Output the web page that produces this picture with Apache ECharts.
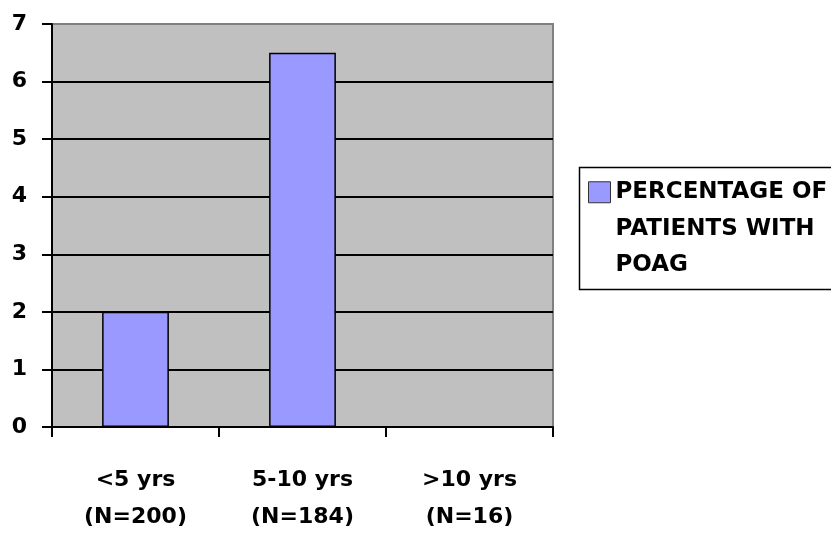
<!DOCTYPE html>
<html>
<head>
<meta charset="utf-8">
<script src="https://cdn.jsdelivr.net/npm/echarts@6/dist/echarts.min.js"></script>
<style>
html,body{margin:0;padding:0;background:#fff;}
#c{width:831px;height:533px;}
</style>
</head>
<body>
<div id="c"></div>
<script>
const categories = ['<5 yrs\n(N=200)', '5-10 yrs\n(N=184)', '>10 yrs\n(N=16)'];
const seriesName = 'PERCENTAGE OF PATIENTS WITH POAG';
const values = [2, 6.5, 0];
const yTicks = [0, 1, 2, 3, 4, 5, 6, 7];

const FONT = 'DejaVu Sans';
const chart = echarts.init(document.getElementById('c'), null, {renderer: 'canvas'});
chart.setOption({
  animation: false,
  backgroundColor: '#ffffff',
  grid: {
    left: 52, right: 278, top: 24, bottom: 106,
    containLabel: false, outerBoundsMode: 'none',
    show: true, backgroundColor: '#C0C0C0', borderColor: '#808080', borderWidth: 2
  },
  legend: {
    show: true,
    left: 588, top: 101,
    padding: 0,
    itemWidth: 22, itemHeight: 21,
    icon: 'rect',
    formatter: function (n) { return '\n\nPERCENTAGE OF\nPATIENTS WITH\nPOAG'; },
    textStyle: {
      fontFamily: FONT, fontWeight: 'bold', fontSize: 23, color: '#000',
      lineHeight: 36.5
    },
    itemStyle: {borderColor: '#333', borderWidth: 1}
  },
  graphic: [{
    type: 'rect', left: 577, top: 165, silent: true,
    shape: {width: 300, height: 122},
    style: {fill: 'none', stroke: '#000', lineWidth: 1.5}
  }],
  xAxis: {
    type: 'category',
    data: categories,
    axisLine: {lineStyle: {color: '#000', width: 2}},
    axisTick: {show: true, inside: false, length: 10, alignWithLabel: false, lineStyle: {color: '#000', width: 2}},
    axisLabel: {
      margin: 35, interval: 0,
      fontFamily: FONT, fontWeight: 'bold', fontSize: 22, color: '#000', lineHeight: 37
    },
    splitLine: {show: false}
  },
  yAxis: {
    type: 'value',
    min: yTicks[0], max: yTicks[yTicks.length - 1], interval: 1,
    axisLine: {show: true, lineStyle: {color: '#000', width: 2}},
    axisTick: {show: true, inside: false, length: 10, lineStyle: {color: '#000', width: 2}},
    axisLabel: {margin: 25, fontFamily: FONT, fontWeight: 'bold', fontSize: 22, color: '#000'},
    splitLine: {show: true, showMaxLine: false, lineStyle: {color: '#000', width: 2}}
  },
  series: [{
    name: seriesName,
    type: 'bar',
    data: values,
    barWidth: '40%',
    itemStyle: {color: '#9999FF', borderColor: '#000', borderWidth: 1.5}
  }]
});
</script>
</body>
</html>
